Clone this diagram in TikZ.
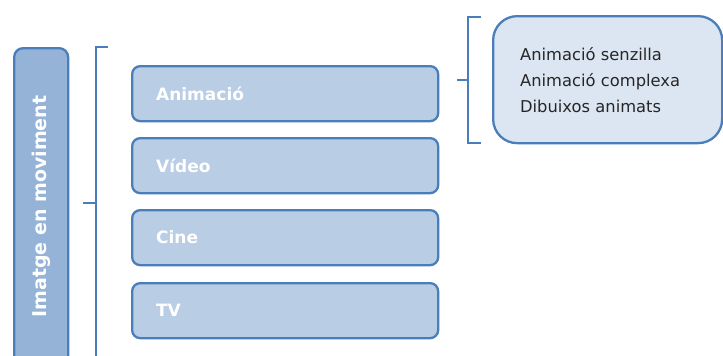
\documentclass[tikz,border=0pt]{standalone}
\usepackage{fontspec}
\setmainfont{DejaVu Sans}
\definecolor{edgeblue}{RGB}{74,126,187}
\definecolor{mainfill}{RGB}{149,179,215}
\definecolor{itemfill}{RGB}{185,205,229}
\definecolor{notefill}{RGB}{220,230,242}
\begin{document}
\begin{tikzpicture}[x=1pt,y=-1pt,
  mainbox/.style={draw=edgeblue, line width=2.3pt, fill=mainfill, rounded corners=9pt,
    minimum width=54pt, minimum height=317pt, inner sep=0pt, anchor=north west,
    text=white, font=\bfseries\fontsize{19}{23}\selectfont},
  itembox/.style={draw=edgeblue, line width=2.3pt, fill=itemfill, rounded corners=8pt,
    minimum width=306pt, minimum height=55pt, inner xsep=24pt, inner ysep=0pt,
    text width=258pt, align=left, anchor=north west,
    text=white, font=\bfseries\fontsize{17}{20}\selectfont},
  notebox/.style={draw=edgeblue, line width=2.3pt, fill=notefill, rounded corners=24pt,
    minimum width=229pt, minimum height=127pt, inner xsep=27pt, inner ysep=0pt,
    text width=175pt, align=left, anchor=north west,
    text=black!85, font=\fontsize{16.3}{26}\selectfont},
  brace/.style={draw=edgeblue, line width=2pt}
]
\useasboundingbox (0,0) rectangle (723,356);
\clip (0,0) rectangle (723,356);

% main category, running off the bottom edge
\node[mainbox] (main) at (13,47) {\rotatebox{90}{Imatge en moviment}};

% sub-categories
\node[itembox] (anim) at (131,65)  {Animació};
\node[itembox] (vid)  at (131,137) {Vídeo};
\node[itembox] (cine) at (131,209) {Cine};
\node[itembox] (tv)   at (131,282) {TV};

% details of the animation entry
\node[notebox] (note) at (492,15) {Animació senzilla\\Animació complexa\\Dibuixos animats};

% brace grouping the sub-categories
\coordinate (b1top) at (108,47);
\coordinate (b1mid) at (83,203);
\draw[brace] (b1top) -- (96,47) -- (96,380);
\draw[brace] (96,203) -- (b1mid);

% brace grouping the animation details
\coordinate (b2top) at (481,17);
\coordinate (b2bot) at (481,143);
\coordinate (b2mid) at (457,80);
\draw[brace] (b2top) -- (468,17) -- (468,143) -- (b2bot);
\draw[brace] (468,80) -- (b2mid);
\end{tikzpicture}
\end{document}
